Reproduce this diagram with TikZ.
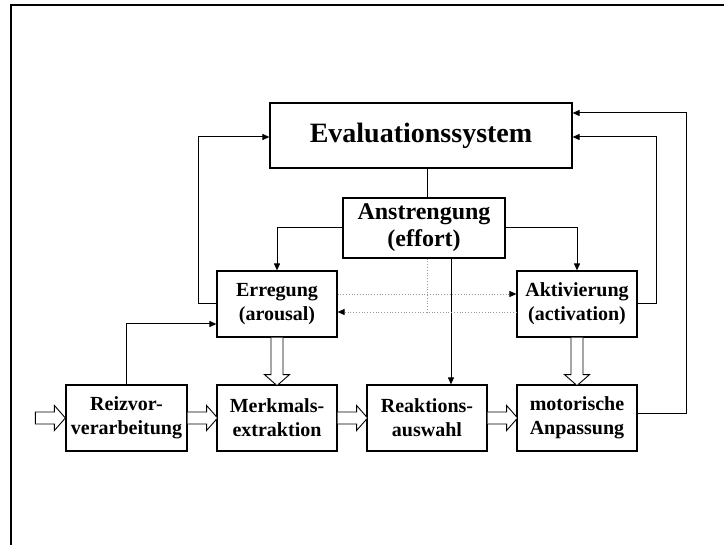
\documentclass[tikz,border=0pt]{standalone}
\usepackage{fontspec}
\setmainfont{Liberation Serif}
\usetikzlibrary{arrows.meta}

\tikzset{
  box/.style={draw, line width=1.2pt, align=center, inner sep=0pt,
              font=\bfseries\fontsize{20}{24}\selectfont,
              minimum width=120pt, minimum height=66pt},
  link/.style={line width=1pt, -{Triangle[length=7pt,width=6pt]}},
  plain/.style={line width=1pt},
  dots/.style={gray!80, line width=0.8pt, dotted},
  dotlink/.style={dots, -{Triangle[length=7pt,width=6pt,black]}},
  pics/hollow/.style={code={
    \draw[line width=0.9pt, fill=white]
      (0,-6) -- (#1-11,-6) -- (#1-11,-12.5) -- (#1,0) -- (#1-11,12.5)
      -- (#1-11,6) -- (0,6);
  }},
  pics/hollowclosed/.style={code={
    \draw[line width=0.9pt, fill=white]
      (0,-6) -- (#1-11,-6) -- (#1-11,-12.5) -- (#1,0) -- (#1-11,12.5)
      -- (#1-11,6) -- (0,6) -- cycle;
  }}
}

\begin{document}
\begin{tikzpicture}[x=1pt, y=-1pt]
  \useasboundingbox (0,0) rectangle (724,545);

  % page frame (top and left edges)
  \draw[line width=2.4pt] (11,545) -- (11,5) -- (724,5);

  % boxes
  \node[box, minimum width=302pt, minimum height=65pt,
        font=\bfseries\fontsize{28}{32}\selectfont] (eval) at (421,135.5) {Evaluationssystem};
  \node[box, minimum width=162pt, minimum height=60pt,
        font=\bfseries\fontsize{24}{27}\selectfont] (ans) at (424,228) {Anstrengung\\(effort)};
  \node[box] (erreg) at (277,304) {Erregung\\(arousal)};
  \node[box] (akt)   at (577,304) {Aktivierung\\(activation)};
  \node[box, minimum width=121pt] (reiz) at (126.5,418) {Reizvor-\\verarbeitung};
  \node[box] (merk) at (277,418) {Merkmals-\\extraktion};
  \node[box] (reak) at (427,418) {Reaktions-\\auswahl};
  \node[box] (mot)  at (577,418) {motorische\\Anpassung};

  \coordinate (lft)  at (198,0);
  \coordinate (rgt1) at (656,0);
  \coordinate (rgt2) at (686,0);

  % effort branches
  \draw[plain] ([xshift=6pt]eval.south) -- ([xshift=3pt]ans.north);
  \draw[link] (ans.west) -| (erreg.north);
  \draw[link] (ans.east) -| (akt.north);
  \draw[link] ([xshift=27pt]ans.south) -- ([xshift=24pt]reak.north);

  % feedback loops to the evaluation system
  \draw[link] (erreg.west) -- (erreg.west -| lft) |- ([yshift=-1.5pt]eval.west);
  \draw[link] (akt.east) -- (akt.east -| rgt1) |- ([yshift=-1.5pt]eval.east);
  \draw[link] ([yshift=4pt]mot.east) -- ([yshift=4pt]mot.east -| rgt2)
              |- ([yshift=22.5pt]eval.east);
  \draw[link] (reiz.north) |- ([yshift=-20pt]erreg.west);

  % dotted cross links
  \draw[dots] ([xshift=3pt]ans.south) -- ++(0,54);
  \draw[dotlink] ([yshift=10pt]erreg.east) -- ([yshift=10pt]akt.west);
  \draw[dotlink] ([yshift=-8pt]akt.west) -- ([yshift=-8pt]erreg.east);

  % hollow arrows
  \pic[rotate=-90] at (erreg.south) {hollow=48};
  \pic[rotate=-90] at (akt.south) {hollow=48};
  \pic at ([xshift=-30pt]reiz.west) {hollowclosed=30};
  \pic at (reiz.east) {hollow=30};
  \pic at (merk.east) {hollow=30};
  \pic at (reak.east) {hollow=30};
\end{tikzpicture}
\end{document}
